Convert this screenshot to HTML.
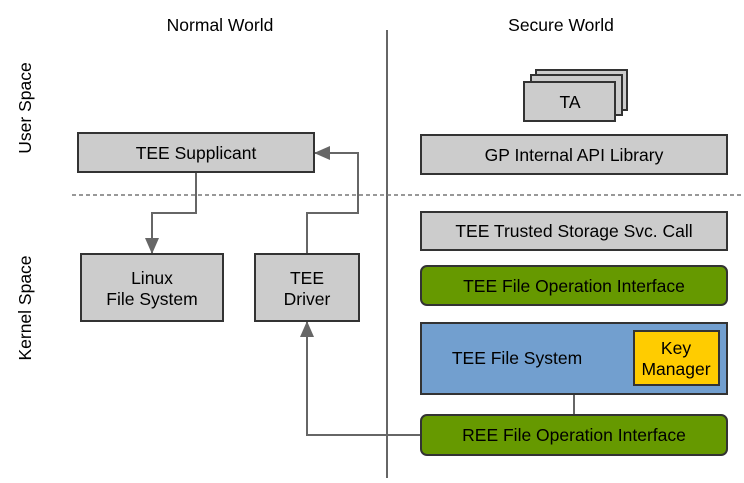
<!DOCTYPE html>
<html><head><style>
body{margin:0;width:744px;height:478px;background:#fff;overflow:hidden}
svg text{font-family:"Liberation Sans",sans-serif;font-size:17.5px;fill:#000}
</style></head><body>
<svg width="744" height="478" viewBox="0 0 744 478" xmlns="http://www.w3.org/2000/svg">
<defs><marker id="a" markerWidth="16" markerHeight="14" refX="15" refY="7" orient="auto" markerUnits="userSpaceOnUse"><path d="M0,0 L16,7 L0,14z" fill="#666"/></marker></defs>
<text x="220" y="31" text-anchor="middle">Normal World</text>
<text x="561" y="31" text-anchor="middle">Secure World</text>
<text transform="translate(31,108) rotate(-90)" text-anchor="middle">User Space</text>
<text transform="translate(31,308) rotate(-90)" text-anchor="middle">Kernel Space</text>
<line x1="387" y1="30" x2="387" y2="478" stroke="#666" stroke-width="2"/>
<line x1="72" y1="195" x2="744" y2="195" stroke="#777" stroke-width="1.5" stroke-dasharray="4,3"/>
<g stroke="#666" stroke-width="2" fill="none">
<path d="M196,172 V213 H152 V253" marker-end="url(#a)"/>
<path d="M307,254 V213 H358 V153 H315" marker-end="url(#a)"/>
<path d="M421,435 H307 V322" marker-end="url(#a)"/>
<line x1="574" y1="394" x2="574" y2="415"/>
</g>
<g stroke="#333" stroke-width="2" fill="#ccc">
<rect x="536" y="70" width="91" height="40"/>
<rect x="531" y="75" width="91" height="40"/>
<rect x="524" y="82" width="91" height="39"/>
<rect x="78" y="133" width="236" height="39"/>
<rect x="81" y="254" width="142" height="67"/>
<rect x="255" y="254" width="104" height="67"/>
<rect x="421" y="135" width="306" height="39"/>
<rect x="421" y="212" width="306" height="38"/>
<rect x="421" y="266" width="306" height="39" rx="6" fill="#669900"/>
<rect x="421" y="323" width="306" height="71" fill="#729fcf"/>
<rect x="634" y="331" width="85" height="54" fill="#ffcc00"/>
<rect x="421" y="415" width="306" height="40" rx="6" fill="#669900"/>
</g>
<g text-anchor="middle">
<text x="570" y="108">TA</text>
<text x="196" y="159">TEE Supplicant</text>
<text x="152" y="284">Linux</text><text x="152" y="305">File System</text>
<text x="307" y="284">TEE</text><text x="307" y="305">Driver</text>
<text x="574" y="161">GP Internal API Library</text>
<text x="574" y="237">TEE Trusted Storage Svc. Call</text>
<text x="574" y="292">TEE File Operation Interface</text>
<text x="517" y="364">TEE File System</text>
<text x="676" y="354">Key</text><text x="676" y="375">Manager</text>
<text x="574" y="441">REE File Operation Interface</text>
</g>
</svg>
</body></html>
